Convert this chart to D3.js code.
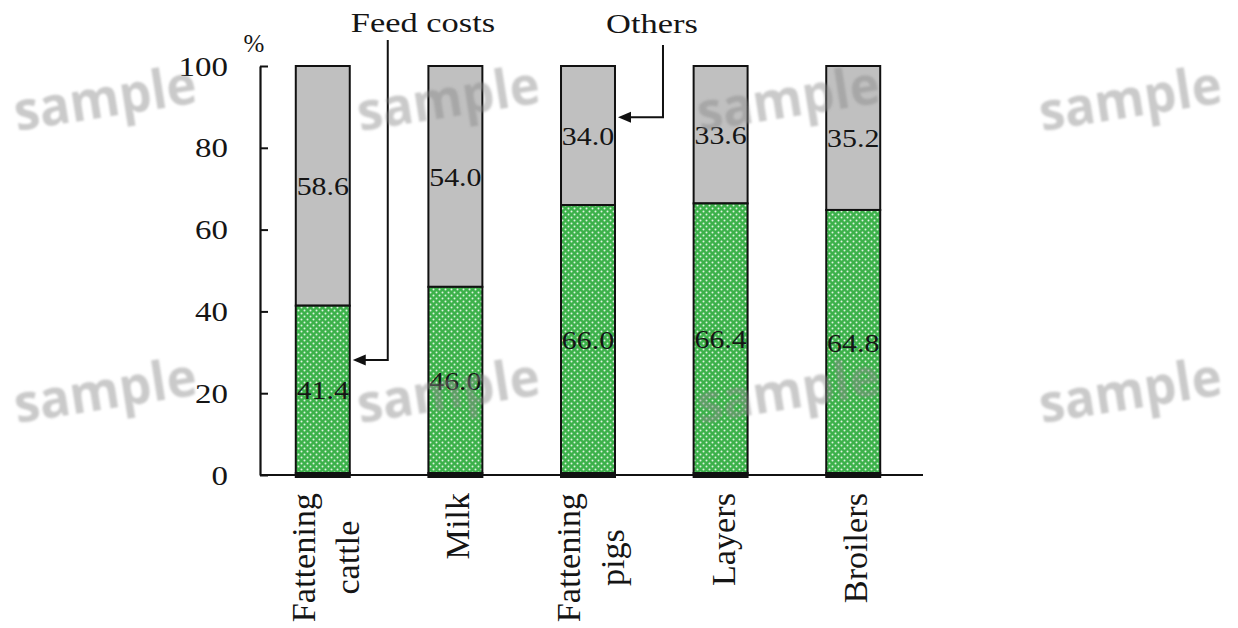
<!DOCTYPE html>
<html>
<head>
<meta charset="utf-8">
<script src="https://cdn.jsdelivr.net/npm/d3@7"></script>
<style>
  html, body { margin: 0; padding: 0; background: #fff; }
  svg { display: block; }
  text { font-family: "Liberation Serif", "Times New Roman", serif; fill: #151515; }
</style>
</head>
<body>
<svg id="chart" width="1238" height="628"></svg>
<script>
// Share of production costs by livestock type (%)
const categories = ["Fattening cattle", "Milk", "Fattening pigs", "Layers", "Broilers"];
const categoryLines = [["Fattening", "cattle"], ["Milk"], ["Fattening", "pigs"], ["Layers"], ["Broilers"]];
const feedCosts = [41.4, 46.0, 66.0, 66.4, 64.8];
const otherCosts = [58.6, 54.0, 34.0, 33.6, 35.2];
const yTicks = [0, 20, 40, 60, 80, 100];
const watermarkX = [105, 448, 788, 1130];
const watermarkY = [98, 390];

const svg = d3.select("#chart");
const defs = svg.append("defs");

// dotted green fill for the feed-cost segment
const pat = defs.append("pattern")
  .attr("id", "dots").attr("patternUnits", "userSpaceOnUse")
  .attr("width", 6).attr("height", 6);
pat.append("rect").attr("width", 6).attr("height", 6).attr("fill", "#3cb14a");
pat.append("circle").attr("cx", 1.5).attr("cy", 1.5).attr("r", 1).attr("fill", "#f2fbf2").attr("opacity", 0.9);
pat.append("circle").attr("cx", 4.5).attr("cy", 4.5).attr("r", 1).attr("fill", "#f2fbf2").attr("opacity", 0.9);

defs.append("filter").attr("id", "soft")
  .append("feGaussianBlur").attr("stdDeviation", 1.3);

const x = d3.scaleBand().domain(categories).range([256, 920])
  .paddingInner(0.593).paddingOuter(0.3);
const y = d3.scaleLinear().domain([0, 100]).range([475, 66]);

const rows = categories.map((c, i) => ({
  category: c, lines: categoryLines[i], feed: feedCosts[i], other: otherCosts[i]
}));

// stacked bars
const bars = svg.append("g");
rows.forEach(d => {
  const x0 = x(d.category), w = x.bandwidth();
  bars.append("rect")
    .attr("x", x0).attr("y", y(d.feed + d.other))
    .attr("width", w).attr("height", y(d.feed) - y(d.feed + d.other))
    .attr("fill", "#c0c0c0").attr("stroke", "#111").attr("stroke-width", 2);
  bars.append("rect")
    .attr("x", x0).attr("y", y(d.feed))
    .attr("width", w).attr("height", y(0) - y(d.feed))
    .attr("fill", "url(#dots)").attr("stroke", "#111").attr("stroke-width", 2);
  // heavy base edge of each bar
  bars.append("rect")
    .attr("x", x0 - 1).attr("y", y(0) - 3)
    .attr("width", w + 2).attr("height", 6).attr("fill", "#111");
});

// value labels centred in each segment
const fmt = d3.format(".1f");
const labels = svg.append("g").attr("font-size", 26);
rows.forEach(d => {
  const cx = x(d.category) + x.bandwidth() / 2;
  [[d.other, (y(d.feed) + y(d.feed + d.other)) / 2], [d.feed, (y(0) + y(d.feed)) / 2]]
    .forEach(([v, cy]) => {
      labels.append("text")
        .attr("transform", `translate(${cx},${cy}) scale(1.15,1)`)
        .attr("text-anchor", "middle").attr("dy", "0.35em")
        .text(fmt(v));
    });
});

// y axis, ticks pointing inward
const yAxis = svg.append("g").attr("transform", "translate(260,0)")
  .call(d3.axisLeft(y).tickValues(yTicks).tickSize(-8).tickSizeOuter(0).tickFormat(d3.format("d")));
yAxis.select(".domain").attr("stroke", "#111").attr("stroke-width", 2.2);
yAxis.selectAll(".tick line").attr("stroke", "#111").attr("stroke-width", 2);
yAxis.selectAll(".tick text")
  .attr("x", 0).attr("dy", "0.34em")
  .attr("transform", "translate(-32,0) scale(1.22,1)")
  .attr("font-family", "Liberation Serif, serif").attr("font-size", 27)
  .attr("fill", "#151515");

svg.append("text").attr("x", 254).attr("y", 52)
  .attr("text-anchor", "middle").attr("font-size", 25).text("%");

// x axis baseline
const xAxis = svg.append("g").attr("transform", `translate(0,${y(0)})`)
  .call(d3.axisBottom(x).tickSize(0).tickFormat(""));
xAxis.select(".domain").attr("d", "M260,0H923").attr("stroke", "#111").attr("stroke-width", 2.2);

// rotated category labels
const catG = svg.append("g").attr("font-size", 30);
rows.forEach(d => {
  const cx = x(d.category) + x.bandwidth() / 2;
  const n = d.lines.length;
  const texts = d.lines.map((line, i) =>
    catG.append("text").attr("text-anchor", "middle").text(line)
      .datum(cx + 14 + (i - (n - 1) / 2) * 44));
  const maxLen = d3.max(texts, t => t.node().getComputedTextLength()) * 1.14;
  const yMid = 493 + maxLen / 2;
  texts.forEach(t => {
    t.attr("transform", `translate(${t.datum()},${yMid}) rotate(-90) scale(1.14,1.1)`);
  });
});

// call-out arrows
const callouts = [
  { label: "Feed costs", category: "Fattening cattle", value: 28.1, lineDx: 38, lineTop: 40, textX: 423, textY: 32 },
  { label: "Others", category: "Fattening pigs", value: 87.5, lineDx: 48, lineTop: 45, textX: 652, textY: 33 }
];
const ann = svg.append("g");
callouts.forEach(c => {
  const right = x(c.category) + x.bandwidth();
  const ay = y(c.value);
  const lx = right + c.lineDx;
  const tip = right + 3;
  ann.append("path")
    .attr("d", `M${lx},${c.lineTop}V${ay}H${tip + 10}`)
    .attr("fill", "none").attr("stroke", "#111").attr("stroke-width", 2);
  ann.append("path")
    .attr("d", `M${tip},${ay}L${tip + 13},${ay - 5.5}L${tip + 13},${ay + 5.5}Z`)
    .attr("fill", "#111");
  ann.append("text")
    .attr("transform", `translate(${c.textX},${c.textY}) scale(1.23,1)`)
    .attr("text-anchor", "middle").attr("font-size", 28).text(c.label);
});

// watermark
const wm = svg.append("g").attr("filter", "url(#soft)");
watermarkY.forEach(wy => watermarkX.forEach(wx => {
  wm.append("text")
    .attr("transform", `translate(${wx},${wy}) rotate(-9)`)
    .attr("text-anchor", "middle").attr("dy", "0.35em")
    .style("font-family", "'Open Sans', 'DejaVu Sans', sans-serif")
    .attr("font-weight", 700).attr("font-size", 54)
    .attr("textLength", 184).attr("lengthAdjust", "spacingAndGlyphs")
    .style("fill", "#8a8a8a").attr("opacity", 0.45)
    .text("sample");
}));
</script>
</body>
</html>
